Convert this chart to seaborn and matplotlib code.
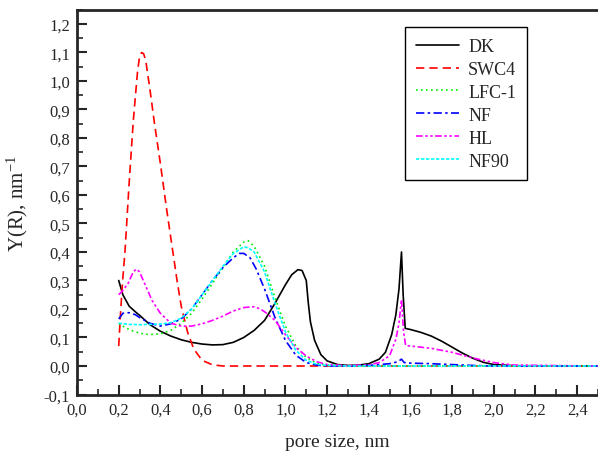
import matplotlib
matplotlib.use("Agg")
import matplotlib.pyplot as plt
import seaborn as sns
from matplotlib.ticker import MultipleLocator, FuncFormatter

# series
dk_x = [0.20, 0.22, 0.25, 0.28, 0.30, 0.35, 0.40, 0.45, 0.50, 0.55, 0.60, 0.65, 0.70, 0.75,
        0.80, 0.85, 0.90, 0.95, 1.00, 1.03, 1.06, 1.08, 1.10, 1.11, 1.12, 1.14, 1.17, 1.20,
        1.25, 1.30, 1.35, 1.40, 1.45, 1.48, 1.51, 1.53, 1.545, 1.557, 1.565, 1.575, 1.60,
        1.65, 1.70, 1.75, 1.80, 1.85, 1.90, 1.95, 2.00, 2.10, 2.50]
dk_y = [0.30, 0.25, 0.21, 0.19, 0.178, 0.145, 0.122, 0.105, 0.092, 0.083, 0.077, 0.074, 0.075,
        0.083, 0.10, 0.125, 0.16, 0.22, 0.285, 0.32, 0.338, 0.335, 0.30, 0.22, 0.155, 0.09,
        0.04, 0.018, 0.005, 0.002, 0.003, 0.008, 0.024, 0.048, 0.11, 0.18, 0.27, 0.40, 0.25,
        0.132, 0.128, 0.118, 0.105, 0.087, 0.066, 0.045, 0.027, 0.013, 0.005, 0.001, 0.0]

swc4_x = [0.20, 0.21, 0.22, 0.23, 0.25, 0.27, 0.29, 0.30, 0.31, 0.32, 0.33, 0.35, 0.37, 0.40,
          0.43, 0.45, 0.48, 0.50, 0.53, 0.56, 0.60, 0.65, 0.70, 2.50]
swc4_y = [0.07, 0.20, 0.31, 0.40, 0.64, 0.86, 1.03, 1.085, 1.10, 1.095, 1.07, 0.97, 0.86, 0.71,
          0.55, 0.45, 0.30, 0.21, 0.12, 0.06, 0.02, 0.004, 0.0, 0.0]

lfc_x = [0.20, 0.23, 0.26, 0.30, 0.35, 0.40, 0.45, 0.50, 0.55, 0.60, 0.65, 0.70, 0.75, 0.80,
         0.82, 0.85, 0.90, 0.95, 1.00, 1.05, 1.10, 1.15, 1.20, 1.30, 2.50]
lfc_y = [0.15, 0.135, 0.125, 0.115, 0.11, 0.113, 0.125, 0.15, 0.185, 0.235, 0.29, 0.345, 0.40,
         0.435, 0.44, 0.42, 0.35, 0.24, 0.14, 0.07, 0.03, 0.01, 0.003, 0.0, 0.0]

nf_x = [0.20, 0.22, 0.25, 0.28, 0.30, 0.35, 0.40, 0.45, 0.50, 0.55, 0.60, 0.65, 0.70, 0.75,
        0.78, 0.80, 0.83, 0.86, 0.90, 0.95, 1.00, 1.05, 1.10, 1.15, 1.20, 1.30, 1.40, 1.50,
        1.54, 1.557, 1.57, 1.60, 1.70, 1.80, 1.90, 2.00, 2.50]
nf_y = [0.165, 0.185, 0.187, 0.18, 0.17, 0.15, 0.14, 0.148, 0.165, 0.20, 0.25, 0.30, 0.345,
        0.38, 0.395, 0.395, 0.38, 0.34, 0.27, 0.17, 0.09, 0.038, 0.012, 0.003, 0.0, 0.0, 0.002,
        0.008, 0.015, 0.024, 0.012, 0.01, 0.008, 0.005, 0.002, 0.0, 0.0]

hl_x = [0.20, 0.22, 0.245, 0.27, 0.285, 0.30, 0.33, 0.36, 0.40, 0.45, 0.50, 0.55, 0.60, 0.65,
        0.70, 0.75, 0.80, 0.85, 0.88, 0.91, 0.95, 1.00, 1.05, 1.10, 1.15, 1.20, 1.30, 1.40,
        1.45, 1.50, 1.53, 1.545, 1.557, 1.567, 1.577, 1.60, 1.70, 1.80, 1.90, 2.00, 2.10, 2.50]
hl_y = [0.25, 0.265, 0.29, 0.33, 0.34, 0.33, 0.28, 0.23, 0.185, 0.15, 0.14, 0.14, 0.148, 0.16,
        0.175, 0.193, 0.205, 0.208, 0.20, 0.185, 0.16, 0.11, 0.065, 0.035, 0.015, 0.005, 0.001,
        0.004, 0.012, 0.036, 0.094, 0.15, 0.233, 0.12, 0.072, 0.07, 0.062, 0.048, 0.028, 0.012,
        0.003, 0.0]

nf90_x = [0.20, 0.25, 0.30, 0.35, 0.40, 0.45, 0.50, 0.55, 0.60, 0.65, 0.70, 0.75, 0.80, 0.82,
          0.85, 0.90, 0.95, 1.00, 1.05, 1.10, 1.15, 1.20, 1.30, 2.50]
nf90_y = [0.15, 0.146, 0.145, 0.146, 0.147, 0.152, 0.168, 0.20, 0.25, 0.30, 0.35, 0.395, 0.418,
          0.415, 0.40, 0.33, 0.22, 0.12, 0.055, 0.02, 0.006, 0.002, 0.0, 0.0]

series = [
    ("DK", dk_x, dk_y, "black", "-"),
    ("SWC4", swc4_x, swc4_y, "#ff0000", (0, (5, 3))),
    ("LFC-1", lfc_x, lfc_y, "#00ee00", (0, (1, 2))),
    ("NF", nf_x, nf_y, "#0000ff", (0, (5, 2, 1.5, 2))),
    ("HL", hl_x, hl_y, "#ff00ff", (0, (4, 1.5, 1.5, 1.5, 1.5, 1.5))),
    ("NF90", nf90_x, nf90_y, "#00ffff", (0, (2, 1))),
]

sns.set_style("ticks")
plt.rcParams["font.family"] = ["Liberation Serif", "DejaVu Serif"]
plt.rcParams["mathtext.default"] = "regular"

fig = plt.figure(figsize=(5.98, 4.52), dpi=100)
ax = fig.add_axes([0.1288, 0.125, 0.8712, 0.8513])

for name, xs, ys, col, ls in series:
    sns.lineplot(x=xs, y=ys, ax=ax, color=col, linestyle=ls, linewidth=1.2,
                 label=name, sort=False, errorbar=None)

ax.set_xlim(0, 2.5)
ax.set_ylim(-0.1, 1.25)
ax.xaxis.set_major_locator(MultipleLocator(0.2))
ax.xaxis.set_minor_locator(MultipleLocator(0.1))
ax.yaxis.set_major_locator(MultipleLocator(0.1))
ax.yaxis.set_minor_locator(MultipleLocator(0.05))
comma = FuncFormatter(lambda v, p: f"{v:.1f}".replace(".", ","))
ax.xaxis.set_major_formatter(comma)
ax.yaxis.set_major_formatter(comma)
ax.tick_params(which="major", direction="in", length=7, width=1.5, labelsize=12, pad=5)
ax.tick_params(which="minor", direction="in", length=4, width=1.2)

for s in ["left", "bottom", "top"]:
    ax.spines[s].set_linewidth(2)
ax.spines["right"].set_visible(False)

ax.set_xlabel("pore size, nm", fontsize=14, labelpad=11)
ax.set_ylabel(r"Y(R), nm$^{-1}$", fontsize=15)
ax.yaxis.set_label_coords(-0.09, 0.5)

leg = ax.legend(loc="upper right", bbox_to_anchor=(0.864, 0.955), borderaxespad=0,
                fontsize=13, handlelength=2.4, labelspacing=0.33, fancybox=False,
                framealpha=1, edgecolor="black", borderpad=0.6, handletextpad=0.5)
leg.get_frame().set_linewidth(1)

fig.savefig("out.png", dpi=100)
